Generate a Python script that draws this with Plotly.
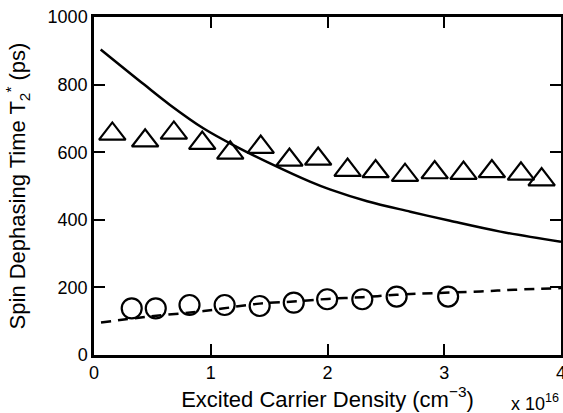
import plotly.graph_objects as go

# Data (carrier density in units of 1e16 cm^-3, T2* in ps)
tri_x = [0.157, 0.438, 0.684, 0.927, 1.167, 1.428, 1.674, 1.92, 2.172, 2.412, 2.664, 2.918, 3.165, 3.408, 3.657, 3.834]
tri_y = [654, 634, 657, 627, 598, 615, 577, 580, 547, 543, 532, 540, 538, 543, 536, 519]

circ_x = [0.323, 0.529, 0.818, 1.119, 1.419, 1.711, 1.997, 2.298, 2.592, 3.033]
circ_y = [138, 138, 148, 148, 145, 155, 165, 165, 173, 173]

solid_x = [0.057, 0.43, 0.651, 0.936, 1.222, 1.508, 1.85, 2.02, 2.34, 2.71, 3.05, 3.48, 4.0]
solid_y = [904, 800, 740, 671, 616, 567, 513, 490, 455, 424, 397, 365, 335]

dash_x = [0.06, 0.45, 0.94, 1.42, 1.71, 2.0, 2.3, 2.59, 2.9, 3.31, 3.6, 4.0]
dash_y = [96, 113, 130, 152, 158, 166, 171, 178, 183, 188, 193, 198]

x_ticks = [0, 1, 2, 3, 4]
y_ticks = [0, 200, 400, 600, 800, 1000]

FONT = "Liberation Sans, Arial, Helvetica, sans-serif"

fig = go.Figure()
fig.add_trace(go.Scatter(x=solid_x, y=solid_y, mode="lines",
                         line=dict(color="black", width=2.5, shape="spline"),
                         showlegend=False))
fig.add_trace(go.Scatter(x=dash_x, y=dash_y, mode="lines",
                         line=dict(color="black", width=2.5, dash="10px,7px", shape="spline"),
                         showlegend=False))
fig.add_trace(go.Scatter(x=tri_x, y=tri_y, mode="markers",
                         marker=dict(symbol="triangle-up-open", size=23,
                                     color="black", line=dict(width=2.2, color="black")),
                         showlegend=False))
fig.add_trace(go.Scatter(x=circ_x, y=circ_y, mode="markers",
                         marker=dict(symbol="circle-open", size=20,
                                     color="black", line=dict(width=2.2, color="black")),
                         showlegend=False))

fig.update_xaxes(range=[0, 4], tickvals=x_ticks, ticktext=[str(v) for v in x_ticks],
                 ticks="inside", ticklen=11, tickwidth=2, tickcolor="black",
                 showline=True, linewidth=2.5, linecolor="black", mirror="ticks",
                 showgrid=False, zeroline=False, ticklabeloverflow="allow",
                 tickfont=dict(family=FONT, size=18, color="black"),
                 title=dict(text="Excited Carrier Density (cm<sup>−3</sup>)",
                            font=dict(family=FONT, size=22, color="black"), standoff=5))
fig.update_yaxes(range=[0, 1000], tickvals=y_ticks, ticktext=[str(v) for v in y_ticks],
                 ticks="inside", ticklen=11, tickwidth=2, tickcolor="black",
                 showline=True, linewidth=2.5, linecolor="black", mirror="ticks",
                 showgrid=False, zeroline=False, ticklabeloverflow="allow",
                 tickfont=dict(family=FONT, size=18, color="black"),
                 title=dict(text="Spin Dephasing Time T<sub>2</sub><sup>*</sup> (ps)",
                            font=dict(family=FONT, size=22, color="black"), standoff=16))

fig.add_annotation(x=1.0, y=-0.14, xref="paper", yref="paper",
                   xanchor="right", yanchor="middle", showarrow=False,
                   text="x 10<sup>16</sup>",
                   font=dict(family=FONT, size=18, color="black"))

fig.update_layout(width=563, height=413,
                  margin=dict(l=94, r=2, t=17, b=58, autoexpand=False),
                  paper_bgcolor="white", plot_bgcolor="white",
                  font=dict(family=FONT, color="black"))

# remove the default page margin so the figure fills the window exactly
fig.write_html("out.html", config={"displayModeBar": False},
               post_script="document.body.style.margin='0px';"
                           "document.body.style.overflow='hidden';")
